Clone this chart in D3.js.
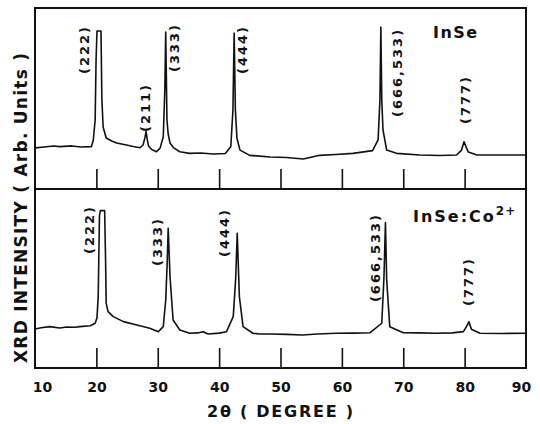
<!DOCTYPE html>
<html>
<head>
<meta charset="utf-8">
<script src="https://cdn.jsdelivr.net/npm/d3@7"></script>
<style>
  body { margin: 0; background: #fff; }
  text { font-family: "DejaVu Sans", sans-serif; font-weight: bold; fill: #111; }
</style>
</head>
<body>
<div id="chart"></div>
<script>
    // Scans: [2 theta (deg), intensity (arb. units)]
    const inseScan = [
        [10, 22.7], [11.5, 23.2], [13, 23.8], [14.1, 23.4], [16, 23.8], [17.5, 23.2], [19.2, 23.4],
        [19.5, 27.1], [19.8, 38.1], [19.95, 71.3], [20.1, 87.3], [20.75, 87.3], [20.9, 49.2],
        [21.1, 34.3], [21.6, 28.2], [22.5, 26.5], [23.3, 25.4], [24.9, 24.3], [26, 23.5], [27.1, 22.8],
        [27.6, 24.3], [27.9, 28.2], [28.1, 31.7], [28.3, 27.1], [28.5, 23.8], [29, 21.8], [29.8, 20.6],
        [30.4, 22.7], [30.9, 28.9], [31.15, 54.7], [31.3, 86.7], [31.5, 38.1], [31.7, 30.4],
        [32.0, 25.4], [32.6, 22.7], [33.6, 20.6], [35.2, 19.7], [37, 19.9], [39, 19.3], [41, 19.6],
        [41.9, 23.4], [42.25, 43.6], [42.45, 86.2], [42.65, 43.6], [42.9, 28.2], [43.4, 21.5],
        [45, 18.6], [48.3, 17.7], [51, 17.4], [53.7, 16.6], [56.4, 18.6], [59, 19.1], [61.8, 19.7],
        [65, 21.2], [65.9, 27.1], [66.2, 49.2], [66.35, 89.5], [66.5, 49.2], [66.7, 32.6],
        [67.3, 21.5], [68.9, 19.7], [72.7, 18.8], [76, 18.5], [78.7, 18.8], [79.5, 21.5],
        [79.9, 26.1], [80.3, 22.7], [80.6, 20.4], [82, 18.8], [86, 18.8], [90, 18.8]
    ];
    const inseCoScan = [
        [10, 21.8], [11, 22.5], [12.4, 23.1], [14, 22.3], [15.2, 22.9], [16.5, 22.8], [17.3, 23.1],
        [19, 23.6], [19.8, 25.0], [20.1, 28], [20.3, 40], [20.5, 85], [20.65, 87.9], [21.35, 87.9],
        [21.5, 60], [21.6, 36.1], [21.9, 31.5], [22.75, 28.7], [24.4, 25.9], [26.6, 24.0],
        [28.7, 22.2], [30.1, 20.3], [30.9, 23.1], [31.3, 38], [31.55, 60], [31.7, 78.0], [32.0, 51],
        [32.5, 26.8], [33.6, 21.2], [35.2, 19.4], [36.5, 19.6], [37.4, 20.3], [38.2, 19.0], [40, 19.5],
        [41.2, 20.3], [42.3, 28.7], [42.7, 50], [42.95, 75.2], [43.3, 39.8], [43.9, 23.1],
        [45.5, 19.4], [46.6, 19.0], [48.3, 19.0], [51, 18.8], [53.6, 18.4], [56, 19.0], [59.1, 19.4],
        [62, 19.5], [64.6, 19.7], [66.5, 25.0], [66.85, 50], [67.1, 81.2], [67.3, 49.2], [67.8, 23.1],
        [70.0, 19.7], [72.5, 19.6], [75.4, 19.4], [78, 19.6], [79.8, 20.3], [80.3, 23.1],
        [80.7, 25.9], [81.1, 21.6], [82.5, 19.4], [86, 19.3], [90, 19.4]
    ];

    // Reflection labels: text, 2 theta where the label sits, intensity at the label's top
    const inseLabels = ["(222)", "(211)", "(333)", "(444)", "(666,533)", "(777)"];
    const inseLabelTheta = [18.14, 28.08, 32.8, 43.88, 69.12, 80.2];
    const inseLabelTop = [90.6, 58.6, 91.7, 90.6, 89.0, 63.0];

    const inseCoLabels = ["(222)", "(333)", "(444)", "(666,533)", "(777)"];
    const inseCoLabelTheta = [18.8, 30.03, 40.94, 65.54, 80.68];
    const inseCoLabelTop = [91.1, 84.4, 89.4, 86.6, 62.0];

    const xTicks = [10, 20, 30, 40, 50, 60, 70, 80, 90];
    const innerTicks = [20, 30, 40, 50, 60, 70, 80];

    const width = 540, height = 424;
    const frame = { left: 35, right: 526, top: 8, mid: 189, bottom: 368 };

    const svg = d3.select("#chart").append("svg")
        .attr("width", width)
        .attr("height", height);

    const x = d3.scaleLinear().domain([10, 90]).range([frame.left, frame.right]);
    const yTop = d3.scaleLinear().domain([0, 100]).range([frame.mid, frame.top]);
    const yBot = d3.scaleLinear().domain([0, 100]).range([frame.bottom, frame.mid]);

    function drawPanel(scan, labels, labelTheta, labelTop, y, panelBottom) {
        // short inward ticks along the bottom of each panel
        const tickAxis = svg.append("g")
            .attr("transform", "translate(0," + panelBottom + ")")
            .call(d3.axisBottom(x).tickValues(innerTicks).tickSize(-20).tickFormat(""));
        tickAxis.select(".domain").remove();
        tickAxis.selectAll("line").attr("stroke", "#111").attr("stroke-width", 1.6);

        const line = d3.line()
            .x(d => x(d[0]))
            .y(d => y(d[1]));

        svg.append("path")
            .datum(scan)
            .attr("fill", "none")
            .attr("stroke", "#111")
            .attr("stroke-width", 1.6)
            .attr("stroke-linejoin", "round")
            .attr("d", line);

        labels.forEach((t, i) => {
            svg.append("text")
                .attr("transform", "translate(" + x(labelTheta[i]) + "," + y(labelTop[i]) + ") rotate(-90)")
                .attr("text-anchor", "end")
                .attr("dominant-baseline", "central")
                .style("font-size", "13px")
                .style("letter-spacing", "2px")
                .text(t);
        });
    }

    drawPanel(inseScan, inseLabels, inseLabelTheta, inseLabelTop, yTop, frame.mid);
    drawPanel(inseCoScan, inseCoLabels, inseCoLabelTheta, inseCoLabelTop, yBot, frame.bottom);

    // frame and divider
    svg.append("rect")
        .attr("x", frame.left)
        .attr("y", frame.top)
        .attr("width", frame.right - frame.left)
        .attr("height", frame.bottom - frame.top)
        .attr("fill", "none")
        .attr("stroke", "#111")
        .attr("stroke-width", 2);

    svg.append("line")
        .attr("x1", frame.left).attr("x2", frame.right)
        .attr("y1", frame.mid).attr("y2", frame.mid)
        .attr("stroke", "#111")
        .attr("stroke-width", 2);

    // x tick labels
    const xAxis = svg.append("g")
        .attr("transform", "translate(0," + frame.bottom + ")")
        .call(d3.axisBottom(x).tickValues(xTicks).tickSize(0).tickPadding(14));
    xAxis.select(".domain").remove();
    xAxis.selectAll("text")
        .style("font-size", "14px")
        .style("font-family", "DejaVu Sans, sans-serif")
        .style("font-weight", "bold")
        .attr("fill", "#111")
        .attr("dx", d => d === 10 ? 7 : d === 90 ? -5 : 0);

    // sample names
    svg.append("text")
        .attr("x", 433)
        .attr("y", 38)
        .style("font-size", "16px")
        .style("letter-spacing", "1.5px")
        .text("InSe");

    const coName = svg.append("text")
        .attr("x", 413)
        .attr("y", 222)
        .style("font-size", "16px")
        .style("letter-spacing", "2px")
        .text("InSe:Co");
    coName.append("tspan")
        .attr("dy", -7)
        .style("font-size", "12px")
        .style("letter-spacing", "1px")
        .text("2+");

    // x-axis title
    svg.append("text")
        .attr("x", 280)
        .attr("y", 417)
        .attr("text-anchor", "middle")
        .attr("textLength", 146)
        .attr("lengthAdjust", "spacing")
        .style("font-size", "16px")
        .text("2θ ( DEGREE )");

    // y-axis title
    svg.append("text")
        .attr("transform", "translate(21,208) rotate(-90)")
        .attr("text-anchor", "middle")
        .attr("dominant-baseline", "central")
        .attr("textLength", 310)
        .attr("lengthAdjust", "spacing")
        .style("font-size", "17px")
        .text("XRD INTENSITY ( Arb. Units )");
</script>
</body>
</html>
